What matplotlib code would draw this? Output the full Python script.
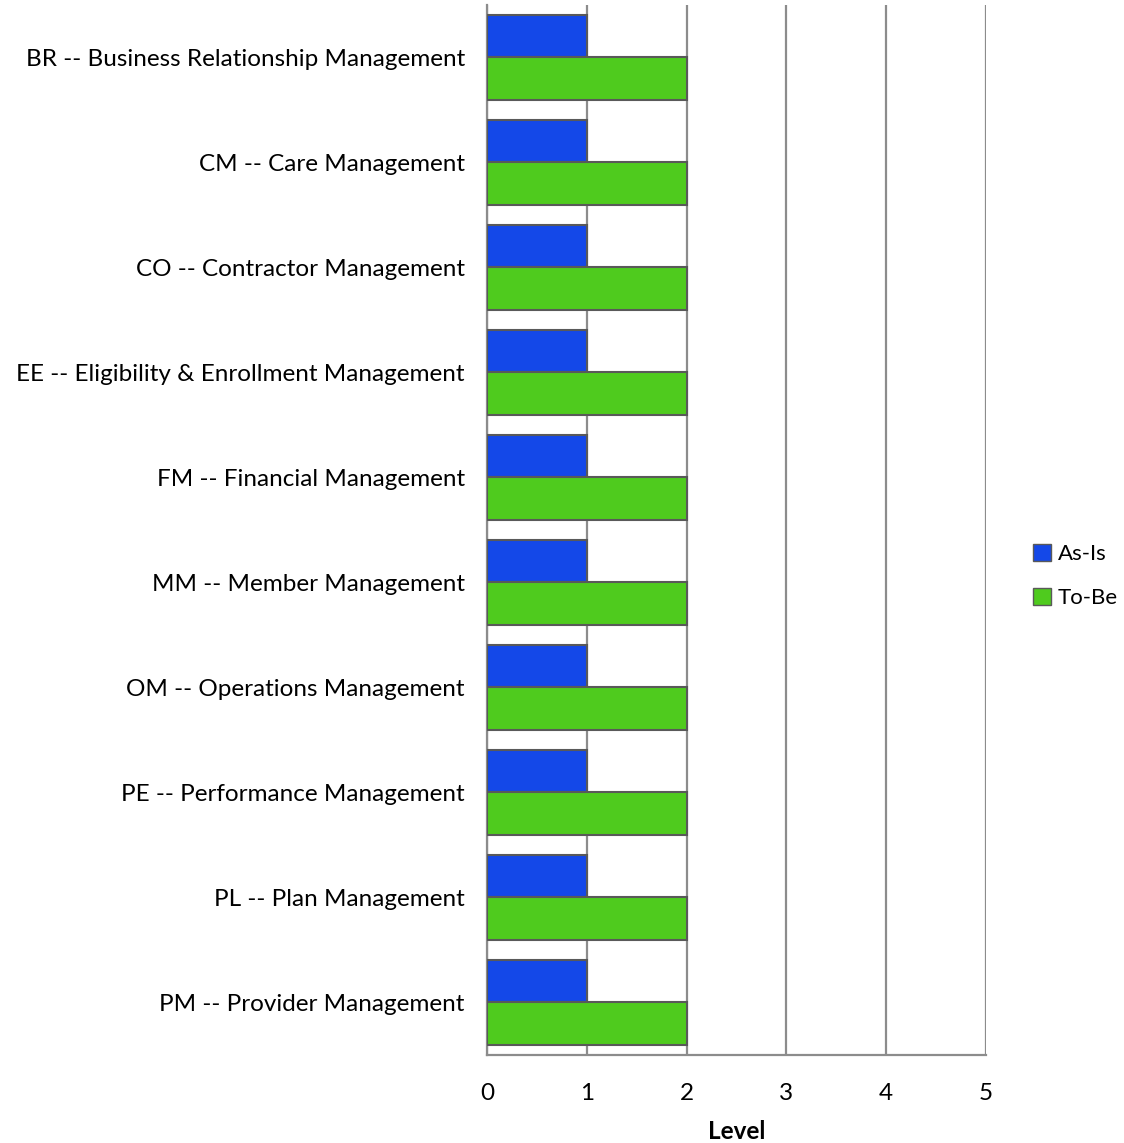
import numpy as np
import matplotlib.pyplot as plt
from matplotlib.patches import Patch

categories = [
    "BR -- Business Relationship Management",
    "CM -- Care Management",
    "CO -- Contractor Management",
    "EE -- Eligibility & Enrollment Management",
    "FM -- Financial Management",
    "MM -- Member Management",
    "OM -- Operations Management",
    "PE -- Performance Management",
    "PL -- Plan Management",
    "PM -- Provider Management",
]
as_is = [1, 1, 1, 1, 1, 1, 1, 1, 1, 1]
to_be = [2, 2, 2, 2, 2, 2, 2, 2, 2, 2]
x_ticks = [0, 1, 2, 3, 4, 5]

blue = "#1448e8"
green = "#4fcb1e"
edge = "#595959"
grid = "#8c8c8c"

plt.rcParams["font.family"] = ["Lato", "DejaVu Sans"]
fs = 17.5

fig = plt.figure(figsize=(11.24, 11.43), dpi=100)
ax = fig.add_axes([487 / 1124, 1 - 1055 / 1143, 499 / 1124, 1050 / 1143])

y = np.arange(len(categories))
h = 0.405
ax.barh(y - h / 2, as_is, height=h, color=blue, edgecolor=edge, linewidth=1.5, label="As-Is", zorder=3)
ax.barh(y + h / 2, to_be, height=h, color=green, edgecolor=edge, linewidth=1.5, label="To-Be", zorder=3)

ax.set_ylim(len(categories) - 0.5, -0.5)
ax.set_xlim(0, 5)
ax.set_xticks(x_ticks)
ax.set_yticks(y)
ax.set_yticklabels(categories, fontsize=fs)
ax.tick_params(axis="y", length=0, pad=16)
ax.tick_params(axis="x", length=0, pad=20, labelsize=fs)
ax.xaxis.grid(True, color=grid, linewidth=1.6, zorder=0)

for side in ["top", "right"]:
    ax.spines[side].set_visible(False)
for side in ["left", "bottom"]:
    ax.spines[side].set_color(grid)
    ax.spines[side].set_linewidth(1.6)

ax.set_xlabel("Level", fontsize=fs, fontweight="bold", labelpad=12)

handles = [Patch(facecolor=blue, edgecolor=edge, label="As-Is"),
           Patch(facecolor=green, edgecolor=edge, label="To-Be")]
fig.legend(handles=handles, loc="center left", bbox_to_anchor=(1033 / 1124, 1 - 576 / 1143),
           frameon=False, fontsize=16, handlelength=0.8, handleheight=0.8,
           handletextpad=0.3, labelspacing=1.1, borderpad=0.0, borderaxespad=0.0)

fig.savefig("out.png", dpi=100)
